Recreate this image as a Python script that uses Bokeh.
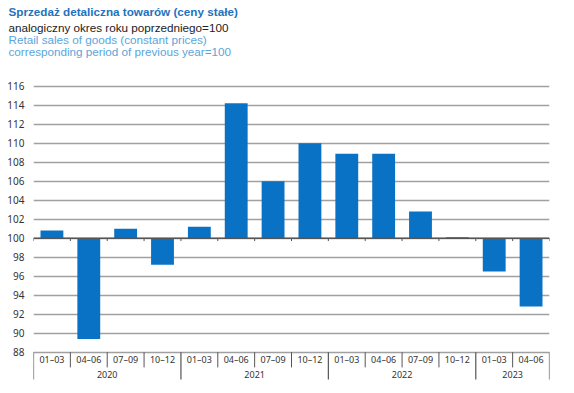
from bokeh.plotting import figure
from bokeh.models import Range1d, FixedTicker, Title, ColumnDataSource
from bokeh.core.properties import value
from bokeh.embed import file_html
from bokeh.resources import INLINE
import numpy as np

# ---- data ----
quarters = ["01–03", "04–06", "07–09", "10–12",
            "01–03", "04–06", "07–09", "10–12",
            "01–03", "04–06", "07–09", "10–12",
            "01–03", "04–06"]
years = ["2020", "2020", "2020", "2020",
         "2021", "2021", "2021", "2021",
         "2022", "2022", "2022", "2022",
         "2023", "2023"]
sales = [100.8, 89.4, 101.0, 97.2,
         101.2, 114.2, 106.0, 110.0,
         108.9, 108.9, 102.8, 100.1,
         96.5, 92.8]
y_ticks = [88, 90, 92, 94, 96, 98, 100, 102, 104, 106, 108, 110, 112, 114, 116]
base = 100

title_pl = "Sprzedaż detaliczna towarów (ceny stałe)"
subtitle_pl = "analogiczny okres roku poprzedniego=100"
title_en = "Retail sales of goods (constant prices)"
subtitle_en = "corresponding period of previous year=100"

FONT = "Noto Sans"
TFONT = "Liberation Sans"
BAR = "#0a72c4"
GRID = "#a0a0a0"

n = len(quarters)
x = np.arange(n) + 0.5

p = figure(frame_width=516, frame_height=305, output_backend="svg", toolbar_location=None,
           x_range=Range1d(0, n), y_range=Range1d(84.81, 116.92),
           x_axis_location=None,
           min_border_left=33, min_border_right=17, min_border_top=10, min_border_bottom=5)
p.outline_line_color = None
p.xgrid.grid_line_color = None
p.ygrid.ticker = FixedTicker(ticks=y_ticks)
p.ygrid.grid_line_color = GRID
p.ygrid.grid_line_width = 1.3

ax = p.yaxis[0]
ax.ticker = FixedTicker(ticks=y_ticks)
ax.axis_line_color = None
ax.major_tick_line_color = None
ax.minor_tick_line_color = None
ax.major_tick_out = 0
ax.major_tick_in = 0
ax.major_label_text_font = FONT
ax.major_label_text_font_size = "10px"
ax.major_label_text_color = "#333333"
ax.major_label_standoff = 9

# bars
src = ColumnDataSource(dict(x=x, top=sales, bottom=[base] * n))
p.vbar(x="x", width=0.62, top="top", bottom="bottom", source=src,
       fill_color=BAR, line_color=None)

# baseline axis at 100
p.segment(x0=[0], x1=[n], y0=[base], y1=[base], line_color="#555555", line_width=1.5)
bx = np.arange(n + 1)
p.segment(x0=bx, x1=bx, y0=[base] * (n + 1), y1=[base - 0.3] * (n + 1),
          line_color="#555555", line_width=1)

# category axis below
bottom_val = y_ticks[0]
sep_q = [i for i in range(1, n) if years[i] == years[i - 1]]
sep_y = [0] + [i for i in range(1, n) if years[i] != years[i - 1]] + [n]
p.segment(x0=sep_q, x1=sep_q, y0=[bottom_val] * len(sep_q), y1=[86.4] * len(sep_q),
          line_color="#555555", line_width=1)
p.segment(x0=sep_y, x1=sep_y, y0=[bottom_val] * len(sep_y), y1=[85.13] * len(sep_y),
          line_color="#555555", line_width=1.2)
p.text(x=x, y=[87.27] * n, text=quarters, text_font=value(FONT), text_font_size="9px",
       text_align="center", text_baseline="middle", text_color="#333333")
uy = []
for yv in dict.fromkeys(years):
    idx = [i for i, v in enumerate(years) if v == yv]
    uy.append((yv, (idx[0] + idx[-1] + 1) / 2))
p.text(x=[c for _, c in uy], y=[85.7] * len(uy), text=[t for t, _ in uy],
       text_font=value(FONT), text_font_size="9px",
       text_align="center", text_baseline="middle", text_color="#333333")

# titles (first added is closest to plot); a blank spacer title sits next to the frame
specs = [(" ", "#ffffff", "normal", 5.5),
         (subtitle_en, "#5aa5dc", "normal", -2.6),
         (title_en, "#5aa5dc", "normal", -2.8),
         (subtitle_pl, "#222222", "normal", -2.8),
         (title_pl, "#1f72bd", "bold", 4.5)]
for txt, col, style, so in specs:
    t = Title(text=txt, text_color=col, text_font_style=style, text_font=TFONT,
              text_font_size="11.7px", align="left", offset=-25, standoff=so,
              vertical_align="bottom")
    p.add_layout(t, "above")

open("out.html", "w").write(file_html(p, INLINE))
